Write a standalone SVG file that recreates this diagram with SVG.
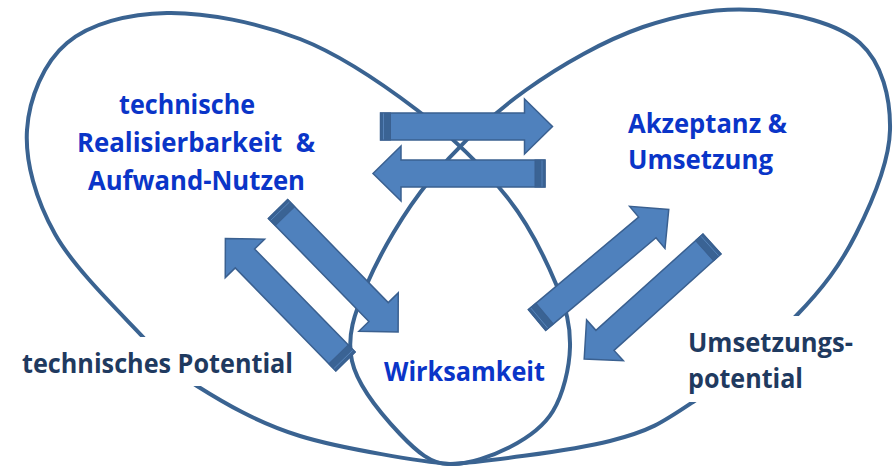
<svg xmlns="http://www.w3.org/2000/svg" xmlns:xlink="http://www.w3.org/1999/xlink" width="893" height="468" viewBox="0 0 893 468">
<style>
.loop{fill:none;stroke:#3a6391;stroke-width:4}
.lbl{font-family:"Open Sans","Liberation Sans",sans-serif;font-weight:bold;font-size:26px}
.blue{fill:#0a35c8}
.navy{fill:#1f3a60}
.arr{fill:#4f81bd;stroke:#3a6090;stroke-width:1.5;stroke-linejoin:miter}
.tail{fill:#3a6394;stroke:#3a6090;stroke-width:1}
.tline{stroke:#5a88bf;stroke-width:0.8}
</style>
<defs>
<g id="arrow">
<path class="arr" d="M0,-13.5 H144 V-27.5 L172,0 L144,27.5 V13.5 H0 Z"/>
<rect class="tail" x="0" y="-13.5" width="10" height="27"/>
<line class="tline" x1="3" y1="-13" x2="3" y2="13"/>
</g>
</defs>
<rect width="893" height="468" fill="#ffffff"/>
<g id="loops">
<path id="loop-left" class="loop" d="M450,464 C425,462 342.2,449 300,436 C257.8,423 223.2,402.5 197,386 C170.8,369.5 166.7,362.3 143,337 C119.3,311.7 74.3,268.5 55,234 C35.7,199.5 25,161.8 27,130 C29,98.2 43.7,62.5 67,43 C90.3,23.5 128.2,13.7 167,13 C205.8,12.3 258.3,22.8 300,39 C341.7,55.2 382.5,83.7 417,110 C451.5,136.3 483.8,168 507,197 C530.2,226 545.5,259 556,284 C566.5,309 570.5,325.8 570,347 C569.5,368.2 563,394.3 553,411 C543,427.7 527.2,438.2 510,447 C492.8,455.8 468,465 450,464 Z"/>
<path id="loop-right" class="loop" d="M450,464 C475,462.5 569.5,451.3 610,441 C650.5,430.7 662,422.8 693,402 C724,381.2 768.8,344 796,316 C823.2,288 840.3,265 856,234 C871.7,203 889.3,161.8 890,130 C890.7,98.2 882.3,63 860,43 C837.7,23 792.2,12.7 756,10 C719.8,7.3 681.3,13.7 643,27 C604.7,40.3 561.5,64.5 526,90 C490.5,115.5 456.5,147.7 430,180 C403.5,212.3 380,253.8 367,284 C354,314.2 346.5,336 352,361 C357.5,386 383.7,416.8 400,434 C416.3,451.2 432,465 450,464 Z"/>
</g>
<rect x="0" y="337" width="302" height="49" fill="#ffffff"/>
<rect x="681" y="316" width="212" height="86" fill="#ffffff"/>
<g id="connectors">
<use xlink:href="#arrow" href="#arrow" transform="translate(380.5,126.5)"/>
<use xlink:href="#arrow" href="#arrow" transform="translate(545,173.5) rotate(180)"/>
<use xlink:href="#arrow" href="#arrow" transform="translate(278,209) rotate(45.7)"/>
<use xlink:href="#arrow" href="#arrow" transform="translate(345.5,361.5) rotate(-134.3)"/>
<use xlink:href="#arrow" href="#arrow" transform="translate(537,320) rotate(-40)"/>
<use xlink:href="#arrow" href="#arrow" transform="translate(712,244) rotate(138)"/>
</g>
<g id="node-technische-realisierbarkeit">
<text class="lbl blue" x="119" y="113.5" textLength="136" lengthAdjust="spacingAndGlyphs">technische</text>
<text class="lbl blue" x="77" y="151.5" textLength="238" lengthAdjust="spacingAndGlyphs" xml:space="preserve" style="white-space:pre">Realisierbarkeit  &amp;</text>
<text class="lbl blue" x="88" y="190" textLength="217" lengthAdjust="spacingAndGlyphs">Aufwand-Nutzen</text>
</g>
<g id="node-akzeptanz">
<text class="lbl blue" x="628" y="133" textLength="159" lengthAdjust="spacingAndGlyphs">Akzeptanz &amp;</text>
<text class="lbl blue" x="628" y="169" textLength="145" lengthAdjust="spacingAndGlyphs">Umsetzung</text>
</g>
<g id="node-wirksamkeit">
<text class="lbl blue" x="384" y="380.5" textLength="161" lengthAdjust="spacingAndGlyphs">Wirksamkeit</text>
</g>
<g id="node-technisches-potential">
<text class="lbl navy" x="22" y="373" textLength="271" lengthAdjust="spacingAndGlyphs">technisches Potential</text>
</g>
<g id="node-umsetzungspotential">
<text class="lbl navy" x="688" y="352" textLength="165" lengthAdjust="spacingAndGlyphs">Umsetzungs-</text>
<text class="lbl navy" x="688" y="388" textLength="115" lengthAdjust="spacingAndGlyphs">potential</text>
</g>
</svg>
